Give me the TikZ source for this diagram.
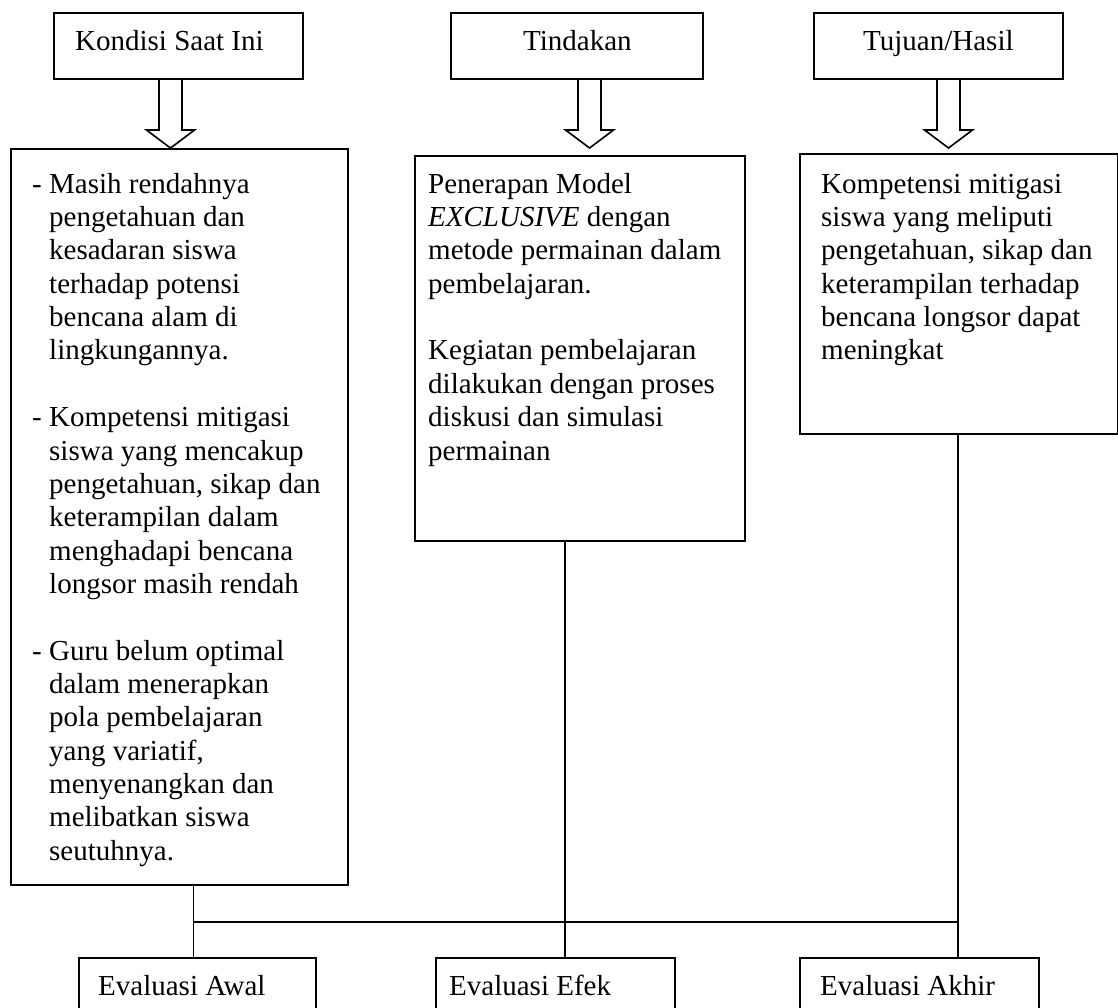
\documentclass[tikz,border=0pt]{standalone}
\usepackage{fontspec}
\setmainfont{Liberation Serif}
\begin{document}
\begin{tikzpicture}[x=1pt,y=-1pt,
  box/.style={draw, line width=1.6pt, inner sep=0pt, anchor=north west},
  txt/.style={inner sep=0pt, anchor=north west, align=left, font=\fontsize{29}{33.35}\selectfont},
  lbl/.style={inner sep=0pt, anchor=base west, font=\fontsize{29}{33.35}\selectfont},
  ln/.style={line width=1.6pt},
  blockarr/.pic={\draw[line width=1.6pt, line join=miter] (-11.5,0) -- (-11.5,52) -- (-24,52) -- (0,70) -- (24,52) -- (11.5,52) -- (11.5,0);}
]
\path[use as bounding box, clip] (0,0) rectangle (1118,1007);

% top boxes
\node[box, minimum width=249, minimum height=66] (k) at (53,12) {};
\node[box, minimum width=252, minimum height=66] (t) at (450,12) {};
\node[box, minimum width=249, minimum height=66] (h) at (813,12) {};
\node[lbl] at (75,50) {Kondisi Saat Ini};
\node[lbl] at (523,50) {Tindakan};
\node[lbl] at (863,50) {Tujuan/Hasil};

% block arrows
\pic at (170.5,78) {blockarr};
\pic at (589.5,78) {blockarr};
\pic at (948.5,78) {blockarr};

% main boxes
\node[box, minimum width=337, minimum height=736] (a) at (10,148) {};
\node[box, minimum width=330, minimum height=385] (b) at (414,155) {};
\node[box, minimum width=318, minimum height=280] (c) at (799,153) {};

\node[txt] at (32,169.65) {\strut- Masih rendahnya\\
\hspace*{17pt}pengetahuan dan\\
\hspace*{17pt}kesadaran siswa\\
\hspace*{17pt}terhadap potensi\\
\hspace*{17pt}bencana alam di\\
\hspace*{17pt}lingkungannya.\\[33.35pt]
- Kompetensi mitigasi\\
\hspace*{17pt}siswa yang mencakup\\
\hspace*{17pt}pengetahuan, sikap dan\\
\hspace*{17pt}keterampilan dalam\\
\hspace*{17pt}menghadapi bencana\\
\hspace*{17pt}longsor masih rendah\\[33.35pt]
- Guru belum optimal\\
\hspace*{17pt}dalam menerapkan\\
\hspace*{17pt}pola pembelajaran\\
\hspace*{17pt}yang variatif,\\
\hspace*{17pt}menyenangkan dan\\
\hspace*{17pt}melibatkan siswa\\
\hspace*{17pt}seutuhnya.};

\node[txt] at (428,169.65) {\strut Penerapan Model\\
\textit{EXCLUSIVE} dengan\\
metode permainan dalam\\
pembelajaran.\\[33.35pt]
Kegiatan pembelajaran\\
dilakukan dengan proses\\
diskusi dan simulasi\\
permainan};

\node[txt] at (821,169.65) {\strut Kompetensi mitigasi\\
siswa yang meliputi\\
pengetahuan, sikap dan\\
keterampilan terhadap\\
bencana longsor dapat\\
meningkat};

% bottom boxes
\node[box, minimum width=237, minimum height=80] (e1) at (78,957) {};
\node[box, minimum width=239, minimum height=80] (e2) at (435,957) {};
\node[box, minimum width=239, minimum height=80] (e3) at (799,957) {};
\node[lbl] at (98,995) {Evaluasi Awal};
\node[lbl] at (449,995) {Evaluasi Efek};
\node[lbl] at (820,995) {Evaluasi Akhir};

% connectors
\coordinate (j1) at (193.5,922);
\coordinate (j2) at (565,922);
\coordinate (j3) at (958,922);
\draw[ln] (j1 |- a.south) -- (j1 |- e1.north);
\draw[ln] (j2 |- b.south) -- (j2 |- e2.north);
\draw[ln] (j3 |- c.south) -- (j3 |- e3.north);
\draw[ln] (j1) -- (j3);
\end{tikzpicture}
\end{document}
